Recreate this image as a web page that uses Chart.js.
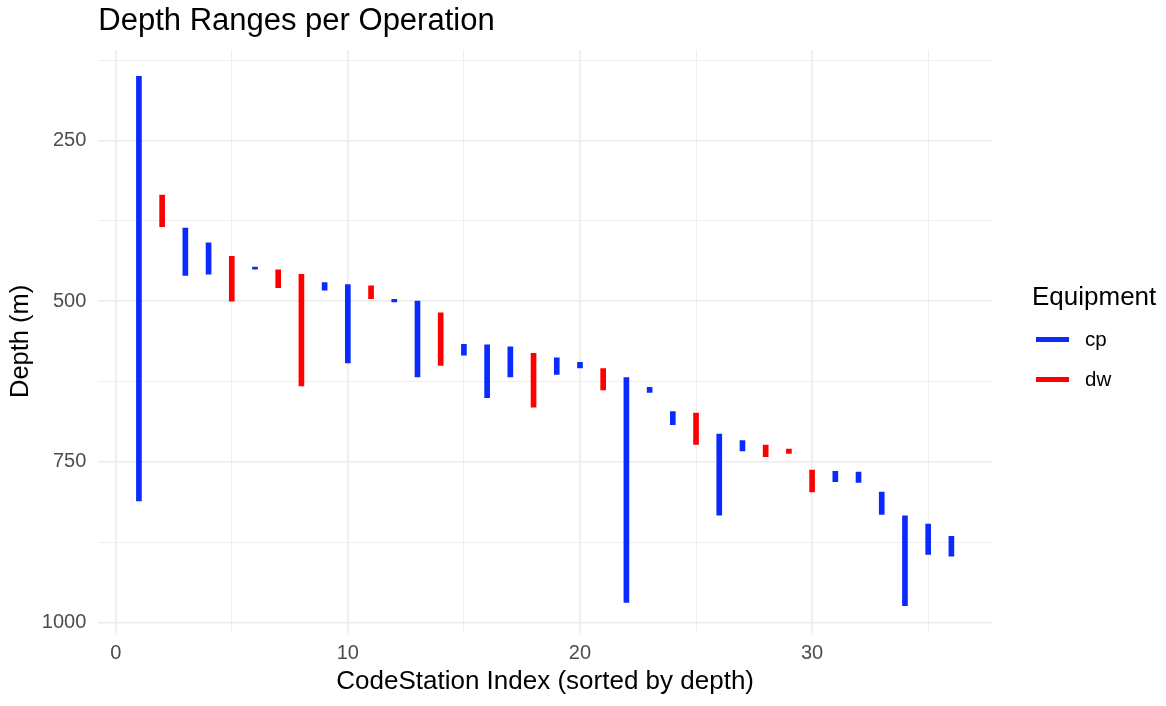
<!DOCTYPE html>
<html>
<head>
<meta charset="utf-8">
<title>Depth Ranges per Operation</title>
<script src="https://cdn.jsdelivr.net/npm/chart.js@4.4.1/dist/chart.umd.min.js"></script>
<style>
  html, body { margin: 0; padding: 0; background: #fff; }
  #wrap { width: 1166px; height: 706px; position: relative; }
</style>
</head>
<body>
<div id="wrap"><canvas id="chart"></canvas></div>
<script>
// one row per operation, sorted by depth
const stations = [1, 2, 3, 4, 5, 6, 7, 8, 9, 10, 11, 12, 13, 14, 15, 16, 17, 18,
  19, 20, 21, 22, 23, 24, 25, 26, 27, 28, 29, 30, 31, 32, 33, 34, 35, 36];
const equipment = ['cp', 'dw', 'cp', 'cp', 'dw', 'cp', 'dw', 'dw', 'cp', 'cp', 'dw', 'cp',
  'cp', 'dw', 'cp', 'cp', 'cp', 'dw', 'cp', 'cp', 'dw', 'cp', 'cp', 'cp',
  'dw', 'cp', 'cp', 'dw', 'dw', 'dw', 'cp', 'cp', 'cp', 'cp', 'cp', 'cp'];
const depthTop = [150, 335, 386, 409, 430, 447, 451, 458, 471, 474, 476, 497,
  500, 518, 567, 568, 571, 581, 588, 595, 605, 619, 634, 672,
  674, 707, 717, 724, 730, 763, 765, 766, 797, 834, 847, 866];
const depthBottom = [811, 384, 460, 458, 500, 450, 479, 632, 483, 596, 496, 501,
  618, 600, 584, 650, 618, 665, 614, 604, 638, 969, 642, 692,
  723, 833, 733, 742, 737, 797, 781, 782, 832, 974, 894, 897];

const equipmentTypes = ['cp', 'dw'];
const equipmentColors = ['#0A2AFF', '#FF0000'];

const xTicks = [0, 5, 10, 15, 20, 25, 30, 35];
const xLabelled = [0, 10, 20, 30];
const yTicks = [125, 250, 375, 500, 625, 750, 875, 1000];
const yLabelled = [250, 500, 750, 1000];

const FONT = '"Liberation Sans", Arial, Helvetica, sans-serif';
const GRID = '#EBEBEB';

// split the rows into one dataset per equipment type
const datasets = equipmentTypes.map((type, i) => ({
  label: type,
  data: stations
    .map((s, k) => ({ x: s, y: [depthTop[k], depthBottom[k]], type: equipment[k] }))
    .filter(d => d.type === type),
  backgroundColor: equipmentColors[i],
  borderWidth: 0,
  barThickness: 5,
  grouped: false
}));

// ggplot-style legend to the right of the panel
const sideLegend = {
  id: 'sideLegend',
  afterDraw(chart) {
    const ctx = chart.ctx;
    const x0 = chart.chartArea.right + 40;
    ctx.save();
    ctx.fillStyle = '#000';
    ctx.font = '26px ' + FONT;
    ctx.textBaseline = 'alphabetic';
    ctx.fillText('Equipment', x0, 305);
    chart.data.datasets.forEach((ds, i) => {
      const y = 339.5 + i * 40;
      ctx.strokeStyle = ds.backgroundColor;
      ctx.lineWidth = 5;
      ctx.beginPath();
      ctx.moveTo(x0 + 4, y);
      ctx.lineTo(x0 + 37, y);
      ctx.stroke();
      ctx.fillStyle = '#000';
      ctx.font = '20.5px ' + FONT;
      ctx.textBaseline = 'middle';
      ctx.fillText(ds.label, x0 + 53, y + 0.5);
    });
    ctx.restore();
  }
};

const gridWidth = (labelled) => (c) => (c.tick && labelled.includes(c.tick.value) ? 1.6 : 0.8);

new Chart(document.getElementById('chart'), {
  type: 'bar',
  data: { datasets },
  plugins: [sideLegend],
  options: {
    responsive: true,
    maintainAspectRatio: false,
    animation: false,
    layout: { padding: { left: 0, right: 174, top: 0, bottom: 0 } },
    plugins: {
      legend: { display: false },
      tooltip: { enabled: false },
      title: {
        display: true,
        text: 'Depth Ranges per Operation',
        align: 'start',
        fullSize: false,
        color: '#000',
        font: { family: FONT, size: 31, weight: 'normal' },
        padding: { top: 2.4, bottom: 10.4 }
      }
    },
    scales: {
      x: {
        type: 'linear',
        min: -0.75,
        max: 37.75,
        offset: false,
        afterBuildTicks: (scale) => { scale.ticks = xTicks.map(v => ({ value: v })); },
        afterFit: (scale) => { scale.height = 73.3; },
        border: { display: false },
        grid: { color: GRID, lineWidth: gridWidth(xLabelled), drawTicks: false, offset: false },
        ticks: {
          padding: 9,
          color: '#4D4D4D',
          font: { family: FONT, size: 20 },
          maxRotation: 0,
          autoSkip: false,
          callback: (v) => (xLabelled.includes(v) ? String(v) : '')
        },
        title: {
          display: true,
          text: 'CodeStation Index (sorted by depth)',
          color: '#000',
          font: { family: FONT, size: 26 },
          padding: { top: 0, bottom: 8.8 }
        }
      },
      y: {
        reverse: true,
        min: 109,
        max: 1016,
        afterBuildTicks: (scale) => { scale.ticks = yTicks.map(v => ({ value: v })); },
        afterFit: (scale) => { scale.width = 98.3; },
        border: { display: false },
        grid: { color: GRID, lineWidth: gridWidth(yLabelled), drawTicks: false },
        ticks: {
          padding: 12,
          color: '#4D4D4D',
          font: { family: FONT, size: 20 },
          autoSkip: false,
          callback: (v) => (yLabelled.includes(v) ? String(v) : '')
        },
        title: {
          display: true,
          text: 'Depth (m)',
          color: '#000',
          font: { family: FONT, size: 25.5 },
          padding: { top: 5.4, bottom: 0 }
        }
      }
    }
  }
});
</script>
</body>
</html>
